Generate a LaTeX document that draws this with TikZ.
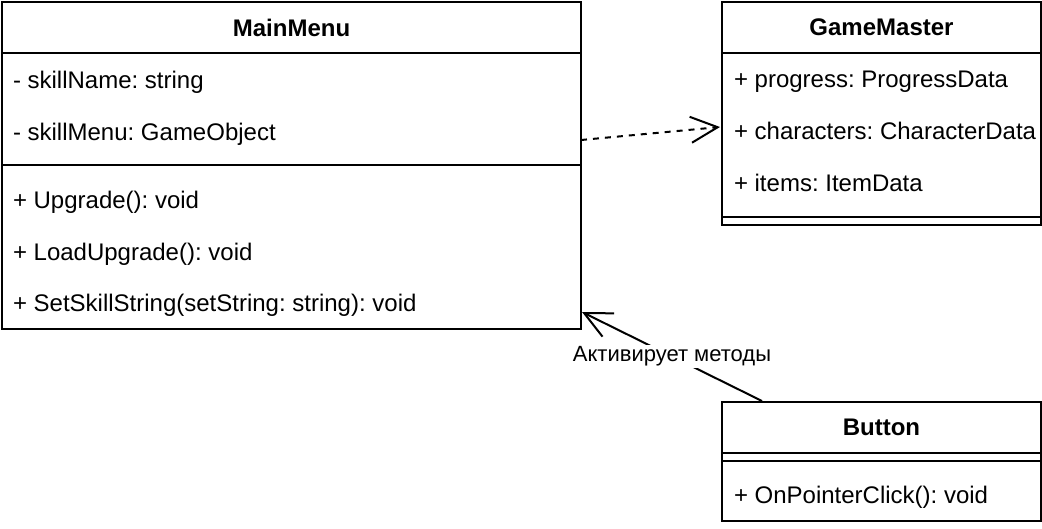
\documentclass[tikz,border=0pt]{standalone}
\usepackage{fontspec}
\setmainfont{Liberation Sans}
\usetikzlibrary{arrows.meta}
\frenchspacing

\begin{document}
\begin{tikzpicture}[x=1pt, y=-1pt, line width=2pt, >={Straight Barb[length=27pt, width=26pt]}]
\tikzstyle{box} = [draw, rectangle, inner sep=0pt, anchor=north west]
\tikzstyle{head} = [font=\fontsize{24}{28}\selectfont\bfseries]
\tikzstyle{member} = [anchor=base west, inner sep=0pt, font=\fontsize{24}{28}\selectfont]
\useasboundingbox (0,0) rectangle (1042,528);
% MainMenu
\node [box, minimum width=579pt, minimum height=327pt] (mm) at (1,1) {};
\node [box, head, minimum width=579pt, minimum height=51pt] (mmhead) at (1,1) {MainMenu};
\node [box, minimum width=579pt, minimum height=112pt] (mmattr) at (1,52) {};
\node [member] (mm1) at (12,88) {- skillName: string};
\node [member] (mm2) at (12,140) {- skillMenu: GameObject};
\node [member] (mm3) at (12,208) {+ Upgrade(): void};
\node [member] (mm4) at (12,260) {+ LoadUpgrade(): void};
\node [member] (mm5) at (12,311) {+ SetSkillString(setString: string): void};
% GameMaster
\node [box, minimum width=319pt, minimum height=223pt] (gm) at (721,1) {};
\node [box, head, minimum width=319pt, minimum height=51pt] (gmhead) at (721,1) {GameMaster};
\node [box, minimum width=319pt, minimum height=164pt] (gmattr) at (721,52) {};
\node [member] (gm1) at (733,87) {+ progress: ProgressData};
\node [member] (gm2) at (733,139) {+ characters: CharacterData};
\node [member] (gm3) at (733,191) {+ items: ItemData};
% Button
\node [box, minimum width=319pt, minimum height=119pt] (bt) at (721,401) {};
\node [box, head, minimum width=319pt, minimum height=51pt] (bthead) at (721,401) {Button};
\node [box, minimum width=319pt, minimum height=8pt] (btsep) at (721,452) {};
\node [member] (bt1) at (733,503) {+ OnPointerClick(): void};
% connectors
\coordinate (d0) at (581,140);
\coordinate (d1) at (720,127);
\coordinate (a0) at (762,401);
\coordinate (a1) at (582,312);
\draw [->, dash pattern=on 6pt off 6pt] (d0) -- (d1);
\draw [->] (a0) -- node [midway, fill=white, inner sep=2pt, font=\fontsize{22}{26}\selectfont] (lbl) {Активирует методы} (a1);
\end{tikzpicture}
\end{document}
